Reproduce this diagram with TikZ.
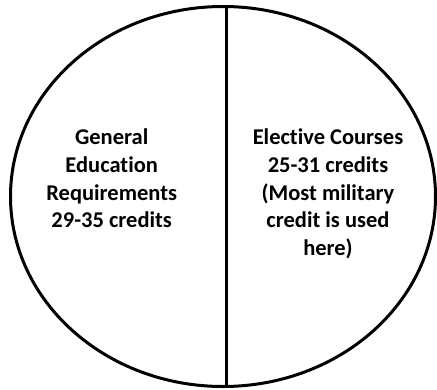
\documentclass[tikz,border=0pt]{standalone}
\usepackage{fontspec}
\setmainfont{Carlito}[Ligatures=NoCommon]
\usepackage{tikz}
\usetikzlibrary{shapes.geometric, positioning}

\begin{document}
\begin{tikzpicture}[
      x=1pt, y=-1pt,
      mypie/.style={
         ellipse,
         draw=black,
         line width=3pt,
         inner sep=0pt,
         minimum width=425pt,
         minimum height=380pt},
      mylabel/.style={
         align=center,
         inner sep=0pt,
         anchor=north,
         font=\bfseries\fontsize{22.5}{27.6}\selectfont},
      mydivider/.style={line width=3pt}
      ]
      \useasboundingbox (0,0) rectangle (437,389);
      \node[mypie] at (223, 196.5) (pie) {};
      % divider between the two parts
      \draw [mydivider] ([xshift=3pt]pie.north) -- ([xshift=3pt]pie.south);

      \node[mylabel] at (111.7, 129) (gened) {General\\Education\\Requirements\\29-35 credits};
      \node[mylabel] at (328, 129) (elective) {Elective Courses\\25-31 credits\\(Most military\\credit is used\\here)};
    \end{tikzpicture}
\end{document}
